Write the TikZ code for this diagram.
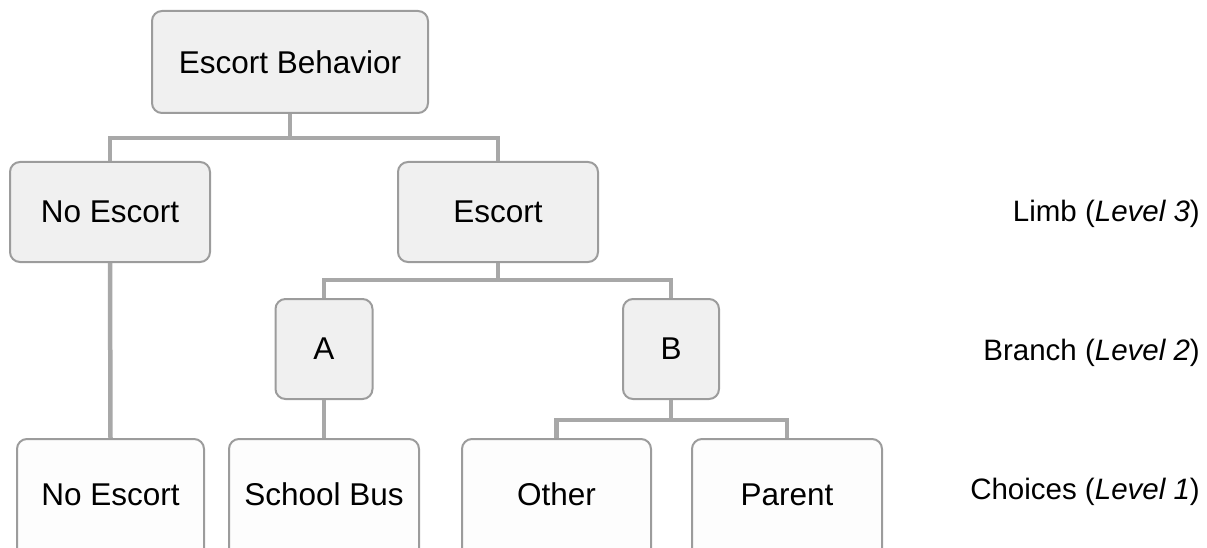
\documentclass[tikz,border=0pt]{standalone}
\usepackage{fontspec}
\setmainfont{Liberation Sans}
\usetikzlibrary{positioning}
\definecolor{Ink}{HTML}{000000}
\definecolor{UpperFill}{HTML}{F0F0F0}
\definecolor{ChoiceFill}{HTML}{FDFDFD}
\definecolor{BoxEdge}{HTML}{9C9C9C}
\definecolor{LinkGray}{HTML}{A8A8A8}
\tikzset{
  link/.style={draw=LinkGray, line width=4.5pt},
  upper/.style={draw=BoxEdge, fill=UpperFill, rounded corners=10pt, line width=2pt,
    align=center, text=Ink, font=\fontsize{31.5}{36}\selectfont, inner sep=0pt},
  choice/.style={draw=BoxEdge, fill=ChoiceFill, rounded corners=10pt, line width=2pt,
    align=center, text=Ink, font=\fontsize{31.5}{36}\selectfont, inner sep=0pt,
    text height=22pt, text depth=20pt},
  levellabel/.style={anchor=east, text=Ink, font=\fontsize{29.5}{34}\selectfont, inner sep=0pt},
}

\begin{document}
\begin{tikzpicture}[x=1pt, y=-1pt]
  \useasboundingbox (0,0) rectangle (1207,548);
  \clip (0,0) rectangle (1207,548);

  % Root and the two limbs.
  \node[upper, minimum width=276pt, minimum height=102pt] (behavior) at (290,62) {Escort Behavior};
  \node[upper, minimum width=200pt, minimum height=100pt] (noLimb) at (110,212) {No Escort};
  \node[upper, minimum width=200pt, minimum height=100pt] (escLimb) at (498,212) {Escort};

  % Branches under the escort limb.
  \node[upper, minimum width=97pt, minimum height=100pt] (branchA) at (324,349) {A};
  \node[upper, minimum width=96pt, minimum height=100pt] (branchB) at (671,349) {B};

  % Choices; the row runs past the lower edge.
  \node[choice, minimum width=187pt, minimum height=130pt, anchor=north] (noChoice) at (110.5,438) {No Escort};
  \node[choice, minimum width=190pt, minimum height=130pt, anchor=north] (busChoice) at (324,438) {School Bus};
  \node[choice, minimum width=189pt, minimum height=130pt, anchor=north] (otherChoice) at (556.5,438) {Other};
  \node[choice, minimum width=190pt, minimum height=130pt, anchor=north] (parentChoice) at (787,438) {Parent};

  % Level names on the right.
  \node[levellabel] (limbLevel) at (1200,214) {Limb (\textit{Level 3})};
  \node[levellabel] (branchLevel) at (1200,353) {Branch (\textit{Level 2})};
  \node[levellabel] (choiceLevel) at (1200,492) {Choices (\textit{Level 1})};

  % Tree connectors.
  \draw[link] (behavior.south) -- ++(0,24) -| (noLimb.north);
  \draw[link] (behavior.south) -- ++(0,24) -| (escLimb.north);
  \draw[link] (escLimb.south) -- ++(0,17) -| (branchA.north);
  \draw[link] (escLimb.south) -- ++(0,17) -| (branchB.north);
  \draw[link] (noLimb.south) -- (noChoice.north);
  \draw[link] (branchA.south) -- (busChoice.north);
  \draw[link] (branchB.south) -- ++(0,20) -| (otherChoice.north);
  \draw[link] (branchB.south) -- ++(0,20) -| (parentChoice.north);

\end{tikzpicture}
\end{document}
